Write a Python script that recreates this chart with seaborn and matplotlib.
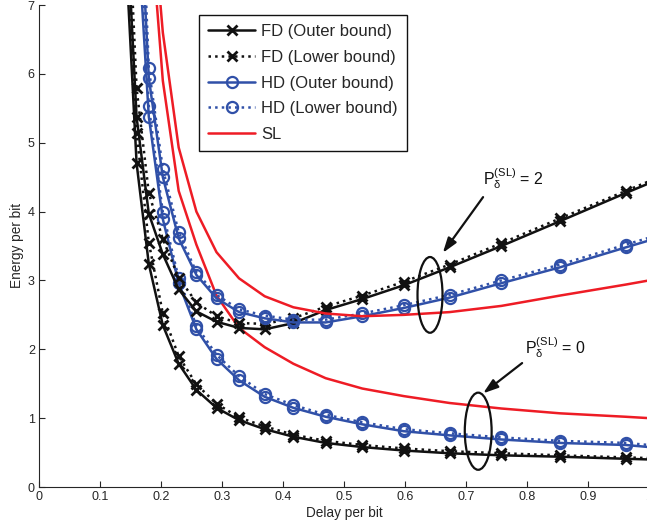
import matplotlib
matplotlib.use('Agg')
import pandas as pd
import matplotlib.pyplot as plt
import seaborn as sns
from matplotlib.patches import Ellipse

# Delay per bit at the computed points (markers sit on these)
delay_fd = [0.142, 0.16, 0.18, 0.203, 0.229, 0.258, 0.291, 0.328, 0.37, 0.417,
            0.47, 0.53, 0.598, 0.673, 0.758, 0.854, 0.962, 1.0]
delay_hd = [0.16, 0.18, 0.203, 0.229, 0.258, 0.291, 0.328, 0.37, 0.417,
            0.47, 0.53, 0.598, 0.673, 0.758, 0.854, 0.962, 1.0]
delay_sl = [0.18, 0.203, 0.229, 0.258, 0.291, 0.328, 0.37, 0.417,
            0.47, 0.53, 0.598, 0.673, 0.758, 0.854, 0.962, 1.0]

# Energy per bit, P_delta^(SL) = 0
fd_outer_p0 = [7.8, 4.70, 3.24, 2.35, 1.79, 1.41, 1.15, 0.97, 0.84, 0.73, 0.64, 0.58, 0.53, 0.49, 0.46, 0.44, 0.41, 0.40]
fd_lower_p0 = [8.6, 5.14, 3.55, 2.52, 1.90, 1.49, 1.21, 1.01, 0.88, 0.76, 0.67, 0.61, 0.56, 0.52, 0.49, 0.46, 0.43, 0.42]
hd_outer_p0 = [8.33, 5.38, 3.89, 2.96, 2.29, 1.86, 1.55, 1.31, 1.15, 1.02, 0.91, 0.81, 0.75, 0.69, 0.64, 0.61, 0.58]
hd_lower_p0 = [8.8, 5.53, 3.99, 3.03, 2.34, 1.92, 1.61, 1.35, 1.19, 1.05, 0.94, 0.84, 0.78, 0.72, 0.67, 0.64, 0.61]
sl_p0 = [8.5, 5.9, 4.3, 3.52, 2.78, 2.31, 2.03, 1.79, 1.58, 1.43, 1.32, 1.22, 1.14, 1.07, 1.02, 1.0]

# Energy per bit, P_delta^(SL) = 2
fd_outer_p2 = [8.5, 5.37, 3.97, 3.38, 2.87, 2.55, 2.40, 2.31, 2.29, 2.38, 2.57, 2.73, 2.93, 3.19, 3.50, 3.86, 4.27, 4.41]
fd_lower_p2 = [9.3, 5.79, 4.27, 3.60, 3.04, 2.68, 2.48, 2.38, 2.37, 2.45, 2.62, 2.78, 2.98, 3.23, 3.54, 3.90, 4.30, 4.44]
hd_outer_p2 = [9.5, 5.94, 4.50, 3.61, 3.08, 2.74, 2.54, 2.45, 2.39, 2.39, 2.48, 2.60, 2.75, 2.96, 3.19, 3.48, 3.58]
hd_lower_p2 = [10.5, 6.08, 4.62, 3.70, 3.12, 2.79, 2.58, 2.49, 2.43, 2.43, 2.52, 2.64, 2.79, 3.00, 3.23, 3.52, 3.62]
sl_p2 = [9.0, 6.6, 4.93, 4.0, 3.41, 3.03, 2.77, 2.61, 2.52, 2.48, 2.50, 2.54, 2.63, 2.78, 2.94, 3.0]

x_ticks = [0, 0.1, 0.2, 0.3, 0.4, 0.5, 0.6, 0.7, 0.8, 0.9, 1.0]
x_ticklabels = ['0', '0.1', '0.2', '0.3', '0.4', '0.5', '0.6', '0.7', '0.8', '0.9', '1']
y_ticks = [0, 1, 2, 3, 4, 5, 6, 7]

sns.set_style('ticks')
plt.rcParams['font.family'] = ['Liberation Sans', 'DejaVu Sans']
plt.rcParams['mathtext.fontset'] = 'custom'
plt.rcParams['mathtext.rm'] = 'Liberation Sans'
plt.rcParams['mathtext.it'] = 'Liberation Sans'
plt.rcParams['mathtext.bf'] = 'Liberation Sans'

BLACK = '#111111'
BLUE = '#3050a8'
RED = '#ee1c25'

fig = plt.figure(figsize=(6.47, 5.27), dpi=100)
ax = fig.add_axes([39 / 647, 40 / 527, 610 / 647, 482 / 527])


def draw(x, y, color, ls, marker=None, label=None):
    df = pd.DataFrame({'delay': x, 'energy': y})
    kw = dict(color=color, linestyle=ls, lw=1.8, sort=False, estimator=None, ax=ax, label=label)
    if marker == 'x':
        kw.update(marker='x', markersize=6.5, markeredgewidth=2, markeredgecolor=color,
                  markevery=list(range(len(x) - 1)))
    elif marker == 'o':
        kw.update(marker='o', markersize=8, markeredgewidth=1.6, markeredgecolor=color,
                  markerfacecolor='none', markevery=list(range(len(x) - 1)))
    sns.lineplot(data=df, x='delay', y='energy', **kw)


draw(delay_fd, fd_outer_p0, BLACK, '-', 'x', 'FD (Outer bound)')
draw(delay_fd, fd_lower_p0, BLACK, ':', 'x', 'FD (Lower bound)')
draw(delay_hd, hd_outer_p0, BLUE, '-', 'o', 'HD (Outer bound)')
draw(delay_hd, hd_lower_p0, BLUE, ':', 'o', 'HD (Lower bound)')
draw(delay_sl, sl_p0, RED, '-', None, 'SL')
draw(delay_fd, fd_outer_p2, BLACK, '-', 'x')
draw(delay_fd, fd_lower_p2, BLACK, ':', 'x')
draw(delay_hd, hd_outer_p2, BLUE, '-', 'o')
draw(delay_hd, hd_lower_p2, BLUE, ':', 'o')
draw(delay_sl, sl_p2, RED, '-', None)

# annotations: ellipses grouping the curves of each P value
ax.add_patch(Ellipse((0.641, 2.79), 0.041, 1.10, fill=False, lw=1.6, color=BLACK, zorder=5))
ax.add_patch(Ellipse((0.720, 0.81), 0.044, 1.12, fill=False, lw=1.6, color=BLACK, zorder=5))
arrow = dict(arrowstyle='-|>,head_length=0.9,head_width=0.3', lw=1.6, color=BLACK, shrinkA=0, shrinkB=0)
ax.annotate('', xy=(0.662, 3.40), xytext=(0.728, 4.21), arrowprops=arrow)
ax.annotate('', xy=(0.728, 1.36), xytext=(0.792, 1.80), arrowprops=arrow)
ax.text(0.777, 4.48, r'$\mathrm{P}_{\mathrm{\delta}}^{(\mathrm{SL})}$ = 2', fontsize=11.5,
        ha='center', va='center', color=BLACK)
ax.text(0.846, 2.02, r'$\mathrm{P}_{\mathrm{\delta}}^{(\mathrm{SL})}$ = 0', fontsize=11.5,
        ha='center', va='center', color=BLACK)

ax.set_xlim(0, 1)
ax.set_ylim(0, 7)
ax.set_xticks(x_ticks)
ax.set_xticklabels(x_ticklabels)
ax.set_yticks(y_ticks)
ax.tick_params(direction='in', length=4, width=0.8, labelsize=9, colors='#262626', pad=3)
ax.set_xlabel('Delay per bit', fontsize=9.8, color='#262626', labelpad=2)
ax.set_ylabel('Energy per bit', fontsize=9.8, color='#262626', labelpad=3)
for side in ['top', 'right']:
    ax.spines[side].set_visible(False)
for side in ['left', 'bottom']:
    ax.spines[side].set_color('#262626')
    ax.spines[side].set_linewidth(0.8)

handles, labels = ax.get_legend_handles_labels()
leg = ax.legend(handles, labels, loc='upper left', bbox_to_anchor=(0.262, 0.979),
                fontsize=12, handlelength=2.85, handletextpad=0.35, labelspacing=0.64,
                borderpad=0.55, fancybox=False, frameon=True, edgecolor=BLACK,
                framealpha=1, borderaxespad=0)
leg.get_frame().set_linewidth(1.0)

fig.savefig('out.png', dpi=100)
